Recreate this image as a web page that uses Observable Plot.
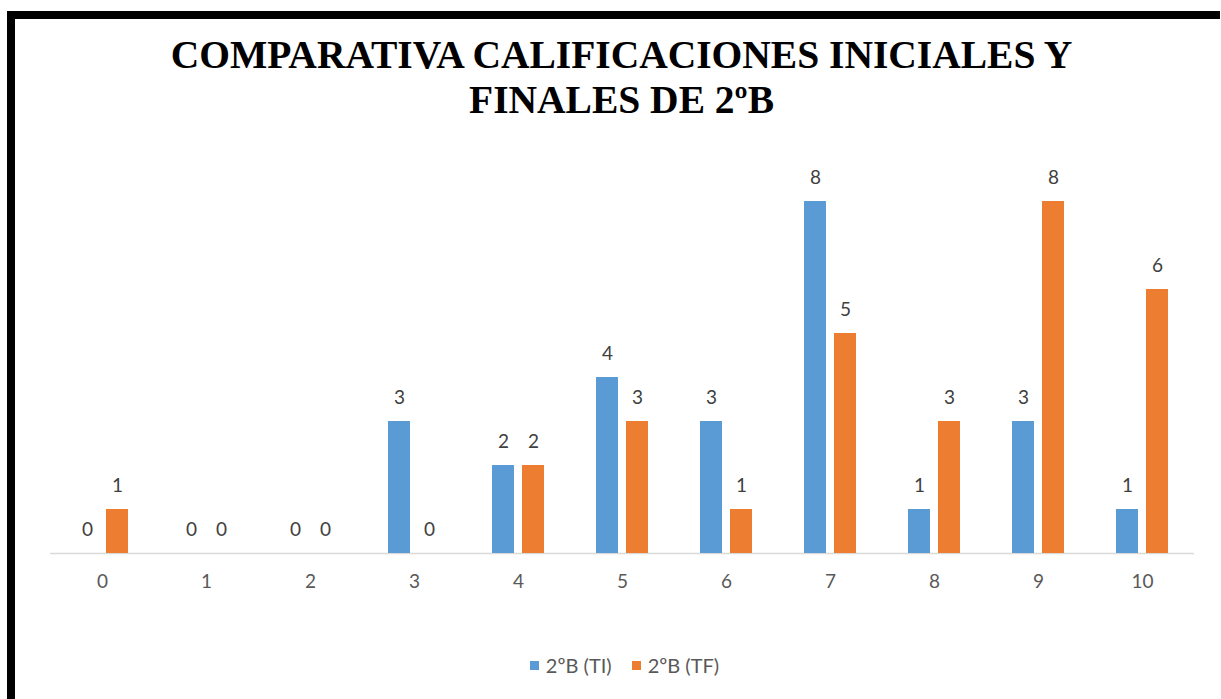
<!DOCTYPE html>
<html><head><meta charset="utf-8">
<script src="https://cdn.jsdelivr.net/npm/d3@7"></script>
<script src="https://cdn.jsdelivr.net/npm/@observablehq/plot@0.6"></script>
<style>
html,body{margin:0;padding:0;background:#fff;width:1221px;height:699px;overflow:hidden;position:relative}
#topbar{position:absolute;left:7px;top:11px;width:1213px;height:8px;background:#000}
#leftbar{position:absolute;left:7px;top:11px;width:8px;height:688px;background:#000}
#title{position:absolute;left:47px;top:33px;width:1149px;text-align:center;font-family:"Liberation Serif","Times New Roman",serif;font-weight:bold;font-size:39.5px;line-height:45px;color:#000}
#chart{position:absolute;left:0;top:122px}
#legend{position:absolute;left:0;top:653px;width:1221px;display:flex;justify-content:center;padding-left:28px;box-sizing:border-box;font-family:Lato,"Open Sans",sans-serif;font-size:20px;line-height:24px;color:#595959}
.item{display:flex;align-items:center;margin:0 10px}
.sw{width:9px;height:9px;margin-right:7px}
</style></head>
<body>
<div id="topbar"></div><div id="leftbar"></div>
<div id="title">COMPARATIVA CALIFICACIONES INICIALES Y<br>FINALES DE 2ºB</div>
<div id="chart"></div>
<div id="legend"></div>
<script>
const categories = ["0","1","2","3","4","5","6","7","8","9","10"];
const seriesNames = ["2ºB (TI)","2ºB (TF)"];
const valuesTI = [0,0,0,3,2,4,3,8,1,3,1];
const valuesTF = [1,0,0,0,2,3,1,5,3,8,6];
const colors = ["#5B9BD5","#ED7D31"];

const data = [];
categories.forEach((c,i)=>{
  data.push({cat:c, series:seriesNames[0], value:valuesTI[i]});
  data.push({cat:c, series:seriesNames[1], value:valuesTF[i]});
});

const chart = Plot.plot({
  width:1221, height:488,
  marginLeft:47, marginRight:25, marginTop:79, marginBottom:57,
  style:{fontFamily:'Lato,"Open Sans",sans-serif', fontSize:"19px", color:"#595959", background:"transparent"},
  fx:{domain:categories, padding:0, label:null, axis:"bottom", tickSize:0, tickPadding:21},
  x:{domain:seriesNames, paddingInner:0.258, paddingOuter:0.815, axis:null},
  y:{domain:[0,8], axis:null},
  color:{domain:seriesNames, range:colors},
  marks:[
    Plot.ruleY([0],{stroke:"#d9d9d9", strokeWidth:1.5}),
    Plot.barY(data,{fx:"cat", x:"series", y:"value", fill:"series"}),
    Plot.text(data,{fx:"cat", x:"series", y:"value", text:d=>String(d.value), dy:-24, fill:"#404040", fontSize:19})
  ]
});
document.getElementById("chart").appendChild(chart);

const leg = document.getElementById("legend");
seriesNames.forEach((s,i)=>{
  const it=document.createElement("div"); it.className="item";
  const sw=document.createElement("div"); sw.className="sw"; sw.style.background=colors[i];
  const t=document.createElement("span"); t.textContent=s;
  it.appendChild(sw); it.appendChild(t); leg.appendChild(it);
});
</script>
</body></html>
